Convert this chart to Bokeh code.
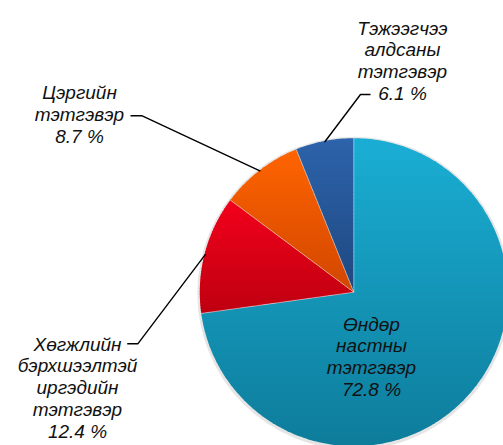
import numpy as np
from bokeh.plotting import figure
from bokeh.models import Range1d
from bokeh.core.properties import value
from bokeh.embed import file_html
from bokeh.resources import INLINE

# ---- data ----
categories = [
    ["Өндөр", "настны", "тэтгэвэр"],
    ["Хөгжлийн", "бэрхшээлтэй", "иргэдийн", "тэтгэвэр"],
    ["Цэргийн", "тэтгэвэр"],
    ["Тэжээгчээ", "алдсаны", "тэтгэвэр"],
]
shares = [72.8, 12.4, 8.7, 6.1]

# ---- styles / layout ----
grad_top = ["#1AAED4", "#F2001B", "#FF6400", "#2D63AB"]
grad_bot = ["#0E7C9B", "#BE0010", "#D14600", "#1E4880"]
CX, CY, R = 353.3, 291.7, 154.0
label_anchor = [(371, 323.5), (77, 343.5), (79, 92), (402, 27.5)]
leader_elbow = [None, (137.3, 343.3), (141.7, 115.3), (360, 94)]
leader_end = [None, (126.7, 343.3), (130, 115.3), (370, 94)]
LINE_H = 21.9
FONT = value("Liberation Sans")
W, H = 503, 445


def hex2rgb(h):
    h = h.lstrip("#")
    return np.array([int(h[i:i + 2], 16) for i in (0, 2, 4)], dtype=float)


def mix(c1, c2, t):
    c = hex2rgb(c1) * (1 - t) + hex2rgb(c2) * t
    return "#%02x%02x%02x" % tuple(int(round(v)) for v in c)


def pt(theta_deg, r):
    t = np.radians(theta_deg)
    return CX + r * np.sin(t), CY - r * np.cos(t)


def clip(poly, y0, y1):
    def clip_half(pts, yv, keep_above):
        out = []
        n = len(pts)
        for i in range(n):
            a = pts[i]
            b = pts[(i + 1) % n]
            ina = a[1] >= yv if keep_above else a[1] <= yv
            inb = b[1] >= yv if keep_above else b[1] <= yv
            if ina:
                out.append(a)
            if ina != inb:
                t = (yv - a[1]) / (b[1] - a[1])
                out.append((a[0] + t * (b[0] - a[0]), yv))
        return out
    pts = clip_half(poly, y0, True)
    if pts:
        pts = clip_half(pts, y1, False)
    return pts


p = figure(width=W, height=H, x_range=Range1d(0, W), y_range=Range1d(H, 0),
           output_backend="svg", toolbar_location=None, min_border=0,
           x_axis_location=None, y_axis_location=None)
p.grid.visible = False
p.outline_line_color = None
p.background_fill_color = "white"
p.border_fill_color = "white"

# soft shadow
p.circle([CX], [CY + 1], radius=R + 2.5, fill_color="#000000", fill_alpha=0.10, line_color=None)

total = sum(shares)
cum = np.concatenate([[0], np.cumsum(shares)]) / total * 360.0

xs_all, ys_all, cols = [], [], []
for i in range(len(shares)):
    a0, a1 = cum[i], cum[i + 1]
    n = max(int((a1 - a0) / 1.0), 2)
    arc = [pt(a, R) for a in np.linspace(a0, a1, n + 1)]
    poly = [(CX, CY)] + arc
    ymin = min(q[1] for q in poly)
    ymax = max(q[1] for q in poly)
    NB = 40
    h = (ymax - ymin) / NB
    for b in range(NB):
        y0 = ymin + b * h
        y1 = y0 + h + 0.8
        cp = clip(poly, y0, y1)
        if len(cp) < 3:
            continue
        xs_all.append([q[0] for q in cp])
        ys_all.append([q[1] for q in cp])
        cols.append(mix(grad_top[i], grad_bot[i], (b + 0.5) / NB))

p.patches(xs=xs_all, ys=ys_all, fill_color=cols, line_color=None)

# slice separators
sep_x, sep_y = [], []
for a in cum[:-1]:
    ex, ey = pt(a, R)
    sep_x.append([CX, ex])
    sep_y.append([CY, ey])
p.multi_line(sep_x, sep_y, line_color="white", line_alpha=0.45, line_width=1)

# leader lines
lx, ly = [], []
for i in range(len(shares)):
    if leader_elbow[i] is None:
        continue
    mid = (cum[i] + cum[i + 1]) / 2
    sx, sy = pt(mid, R - 1)
    lx.append([sx, leader_elbow[i][0], leader_end[i][0]])
    ly.append([sy, leader_elbow[i][1], leader_end[i][1]])
p.multi_line(lx, ly, line_color="black", line_width=1.4)

# labels
tx, ty, tt = [], [], []
for i, lines in enumerate(categories):
    full = lines + [f"{shares[i]} %"]
    ax, ay = label_anchor[i]
    for k, s in enumerate(full):
        tx.append(ax)
        ty.append(ay + k * LINE_H)
        tt.append(s)
p.text(x=tx, y=ty, text=tt, text_font=FONT, text_font_style="italic",
       text_font_size="19px", text_align="center", text_baseline="alphabetic",
       text_color="#111111")

open("out.html", "w").write(file_html(p, INLINE))
